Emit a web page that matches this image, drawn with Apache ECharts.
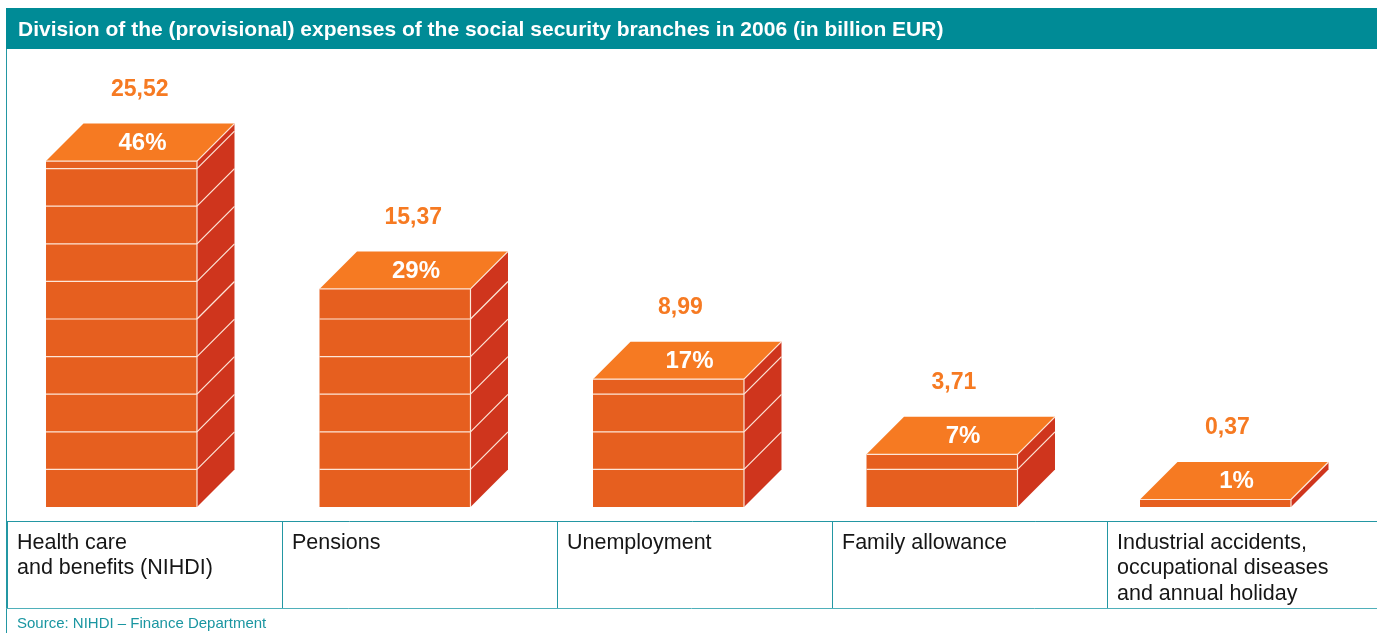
<!DOCTYPE html>
<html>
<head>
<meta charset="utf-8">
<style>html,body{margin:0;padding:0;background:#fff}#chart{width:1377px;height:633px}</style>
<script src="https://cdn.jsdelivr.net/npm/echarts@6/dist/echarts.min.js"></script>
</head>
<body>
<div id="chart"></div>
<script>
// Social security branches, 2006
const titleText = 'Division of the (provisional) expenses of the social security branches in 2006 (in billion EUR)';
const sourceText = 'Source: NIHDI – Finance Department';
const branches = ['Health care\nand benefits (NIHDI)', 'Pensions', 'Unemployment', 'Family allowance',
  'Industrial accidents,\noccupational diseases\nand annual holiday'];
const shares = [46, 29, 17, 7, 1];
const amounts = ['25,52', '15,37', '8,99', '3,71', '0,37'];

const TEAL = '#008b96', RULE = '#2397a3';
const FRONT = '#e65f1f', SIDE = '#cf351d', TOP = '#f67a22', EDGE = '#fde6d8';
const BRICK = 5;      // each block of the stack stands for 5 %
const DEPTH = 37.5;   // oblique offset of the box in pixels
const LABEL_FONT = 'Liberation Sans';

function renderBox(params, api) {
  const i = api.value(0), share = api.value(1);
  const base = api.coord([i, 0]);
  const top = api.coord([i, share]);
  const half = api.size([1, 0])[0] * 0.276;
  const x0 = base[0] - half, x1 = base[0] + half;
  const poly = (points, fill) => ({ type: 'polygon', shape: { points }, style: { fill } });
  const seg = (a, b, c, d) => ({
    type: 'line', shape: { x1: a, y1: b, x2: c, y2: d },
    style: { stroke: EDGE, lineWidth: 1.2 }
  });
  const children = [
    poly([[x0, base[1]], [x1, base[1]], [x1, top[1]], [x0, top[1]]], FRONT),
    poly([[x1, base[1]], [x1 + DEPTH, base[1] - DEPTH], [x1 + DEPTH, top[1] - DEPTH], [x1, top[1]]], SIDE),
    poly([[x0, top[1]], [x1, top[1]], [x1 + DEPTH, top[1] - DEPTH], [x0 + DEPTH, top[1] - DEPTH]], TOP),
    seg(x1, base[1], x1, top[1]),
    seg(x0, top[1], x1, top[1]),
    seg(x1, top[1], x1 + DEPTH, top[1] - DEPTH)
  ];
  for (let v = BRICK; v < share; v += BRICK) {
    const y = api.coord([i, v])[1];
    children.push(seg(x0, y, x1, y), seg(x1, y, x1 + DEPTH, y - DEPTH));
  }
  children.push({
    type: 'text',
    style: {
      x: base[0] + 21, y: top[1] - DEPTH / 2 + 1, text: shares[i] + '%',
      fill: '#fff', font: 'bold 24px "Liberation Sans"', align: 'center', verticalAlign: 'middle'
    }
  }, {
    type: 'text',
    style: {
      x: x0 + 65, y: top[1] - DEPTH - 34, text: amounts[i],
      fill: TOP, font: 'bold 23px "Liberation Sans"', align: 'left', verticalAlign: 'middle'
    }
  });
  return { type: 'group', children };
}

const chart = echarts.init(document.getElementById('chart'), null, { renderer: 'canvas' });
chart.setOption({
  animation: false,
  backgroundColor: '#fff',
  title: [
    { text: titleText, left: 18, top: 19, padding: 0,
      textStyle: { color: '#fff', fontFamily: 'Liberation Sans', fontWeight: 'bold', fontSize: 21, lineHeight: 22 } },
    { text: sourceText, left: 17, top: 615, padding: 0,
      textStyle: { color: '#1a96a1', fontFamily: LABEL_FONT, fontWeight: 'normal', fontSize: 15, lineHeight: 17 } }
  ],
  grid: [
    { left: -15.25, width: 1367.5, top: 55.8, height: 451.2, outerBoundsMode: 'none' },
    { left: 7, width: 1375, top: 500, height: 21, outerBoundsMode: 'none' }
  ],
  xAxis: [
    { type: 'category', gridIndex: 0, data: branches, show: false },
    { type: 'category', gridIndex: 1, data: branches.concat(''), boundaryGap: false,
      axisLine: { show: true, lineStyle: { color: RULE, width: 1 } },
      axisTick: { show: true, alignWithLabel: true, length: 87, lineStyle: { color: RULE, width: 1 } },
      axisLabel: { interval: 0, margin: 9, align: 'left', verticalAlign: 'top', padding: [0, 0, 0, 10],
        color: '#161616', fontFamily: LABEL_FONT, fontSize: 21.5, lineHeight: 25.5, hideOverlap: false } }
  ],
  yAxis: [
    { type: 'value', gridIndex: 0, min: 0, max: 60, show: false },
    { type: 'value', gridIndex: 1, min: 0, max: 1, show: false }
  ],
  series: [{
    type: 'custom',
    xAxisIndex: 0,
    yAxisIndex: 0,
    renderItem: renderBox,
    encode: { x: 0, y: 1 },
    data: shares.map((s, i) => [i, s])
  }],
  graphic: [
    { type: 'rect', z: -1, shape: { x: 6, y: 8, width: 1371, height: 41 }, style: { fill: TEAL } },
    { type: 'line', z: -1, shape: { x1: 6.5, y1: 49, x2: 6.5, y2: 633 }, style: { stroke: RULE, lineWidth: 1 } },
    { type: 'line', z: -1, shape: { x1: 6, y1: 608.5, x2: 1377, y2: 608.5 }, style: { stroke: '#4fb0ba', lineWidth: 1 } }
  ]
});
</script>
</body>
</html>
